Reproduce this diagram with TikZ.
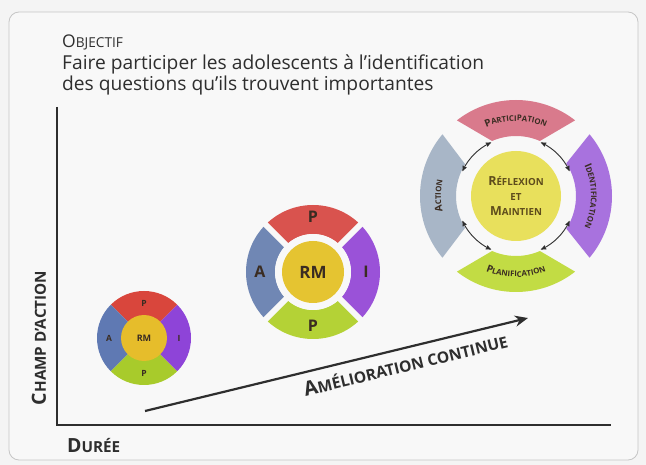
\documentclass[tikz,border=0pt]{standalone}
\usepackage{fontspec}
\setmainfont{Open Sans}
\usetikzlibrary{arrows, arrows.meta, decorations.text}

\definecolor{pagegray}{HTML}{F4F4F4}
\definecolor{framefill}{HTML}{F8F8F8}
\definecolor{inkdark}{HTML}{2E2E2E}
\definecolor{segtext}{HTML}{3A2C22}
\definecolor{coretext}{HTML}{5E4C1C}
% small circle
\definecolor{smallred}{HTML}{D9463C}
\definecolor{smallviolet}{HTML}{8E44D8}
\definecolor{smallgreen}{HTML}{A8CB2B}
\definecolor{smallblue}{HTML}{5F79B3}
\definecolor{smallyellow}{HTML}{E6BD2B}
% middle circle
\definecolor{midred}{HTML}{D9534E}
\definecolor{midviolet}{HTML}{9A52D8}
\definecolor{midgreen}{HTML}{B4D236}
\definecolor{midblue}{HTML}{7087B4}
\definecolor{midyellow}{HTML}{E5C431}
% big circle
\definecolor{bigpink}{HTML}{D97A8C}
\definecolor{bigviolet}{HTML}{A872DE}
\definecolor{biggreen}{HTML}{C2DC44}
\definecolor{bigblue}{HTML}{A8B6C7}
\definecolor{bigyellow}{HTML}{E8E05C}

% first letter large, the rest as small capitals
\newcommand\capsfirst[3]{{\fontsize{#1}{#1}\selectfont #2}{\fontsize{\fpeval{0.78*#1}}{#1}\selectfont #3}}
\newcommand\ringbig{\fontsize{10}{10}\selectfont\bfseries}
\newcommand\ringsmall{\fontsize{7.8}{7.8}\selectfont\bfseries}
% colour, inner r, outer r, outer start, outer end, inner start, inner end
\newcommand\ringseg[7]{\fill[#1] (#4:#3) arc[start angle=#4, end angle=#5, radius=#3] -- (#7:#2) arc[start angle=#7, end angle=#6, radius=#2] -- cycle;}

\tikzset{
	>=stealth', % arrow heads of the cycle arrows
	frame/.style={rounded corners=10pt, draw=gray!45, line width=0.8pt, fill=framefill}, % the card
	headtext/.style={text=inkdark, font=\fontsize{19.2}{21}\selectfont, inner sep=0pt}, % objective lines
	axis/.style={draw=inkdark, line width=1.8pt}, % the two axes
	axislabel/.style={text=inkdark, font=\bfseries, inner sep=0pt}, % names of the axes
	improve/.style={draw=inkdark, line width=2.2pt, -{Stealth[length=13pt, width=11pt]}}, % long arrow
	gapline/.style={draw=framefill}, % white cuts between the sectors
	core/.style={circle, inner sep=0pt, text=segtext, font=\bfseries}, % yellow centre
	seglabel/.style={text=segtext, font=\bfseries, inner sep=0pt}, % letters on the sectors
	cyclearrow/.style={<->, draw=inkdark, line width=0.9pt}, % arrows round the centre
}

\begin{document}
\begin{tikzpicture}[x=1pt, y=1pt]
\useasboundingbox[fill=pagegray] (0,0) rectangle (646,-465);
\draw[frame] (9,-12) rectangle (638,-460);

% objective
\node[headtext, anchor=base west] (objtitle) at (62,-48) {\capsfirst{17.5}{O}{BJECTIF}};
\node[headtext, anchor=base west] (objline1) at (62,-70) {Faire participer les adolescents à l’identification};
\node[headtext, anchor=base west] (objline2) at (62,-91) {des questions qu’ils trouvent importantes};

% axes
\coordinate (ytop) at (57,-107);
\coordinate (origin) at (57,-425);
\coordinate (xend) at (611,-425);
\draw[axis] (ytop) -- (origin) -- (xend);
\node[axislabel, anchor=base west] (duree) at (67,-452) {\capsfirst{19.5}{D}{URÉE}};
\node[axislabel, rotate=90] (champ) at (39,-338) {\capsfirst{19.5}{C}{HAMP D’ACTION}};

% improvement arrow
\coordinate (impstart) at (145,-411);
\coordinate (impend) at (528,-318);
\draw[improve] (impstart) -- (impend)
	node[axislabel, pos=0.67, sloped, below=8pt] (amelio) {\capsfirst{20}{A}{MÉLIORATION CONTINUE}};

% small circle
\begin{scope}[shift={(144,-338)}]
	\foreach \a/\col [evaluate=\a as \b using \a+90] in {45/smallred, 135/smallblue, 225/smallgreen, 315/smallviolet}
		\fill[\col] (\a:47) arc[start angle=\a, end angle=\b, radius=47] -- (0,0) -- cycle;
	\node[core, fill=smallyellow, minimum size=46pt, font=\fontsize{9}{9}\selectfont\bfseries] (smallcore) at (0,0) {RM};
	\node[seglabel, font=\fontsize{8.5}{8.5}\selectfont\bfseries] (smallp1) at (90:35) {P};
	\node[seglabel, font=\fontsize{8.5}{8.5}\selectfont\bfseries] (smalli) at (0:35) {I};
	\node[seglabel, font=\fontsize{8.5}{8.5}\selectfont\bfseries] (smallp2) at (270:35) {P};
	\node[seglabel, font=\fontsize{8.5}{8.5}\selectfont\bfseries] (smalla) at (180:35) {A};
\end{scope}

% middle circle
\begin{scope}[shift={(313,-272)}]
	\foreach \a/\col [evaluate=\a as \b using \a+90] in {45/midred, 135/midblue, 225/midgreen, 315/midviolet}
		\fill[\col] (\a:67) arc[start angle=\a, end angle=\b, radius=67] -- (\b:38) arc[start angle=\b, end angle=\a, radius=38] -- cycle;
	\foreach \a in {45, 135}
		\draw[gapline, line width=6pt] (\a:70) -- (\a+180:70);
	\fill[framefill] (0,0) circle[radius=38];
	\node[core, fill=midyellow, minimum size=62pt, font=\fontsize{17}{17}\selectfont\bfseries] (midcore) at (0,0) {RM};
	\node[seglabel, font=\fontsize{16}{16}\selectfont\bfseries] (midp1) at (90:55) {P};
	\node[seglabel, font=\fontsize{16}{16}\selectfont\bfseries] (midi) at (0:53) {I};
	\node[seglabel, font=\fontsize{16}{16}\selectfont\bfseries] (midp2) at (270:54) {P};
	\node[seglabel, font=\fontsize{16}{16}\selectfont\bfseries] (mida) at (180:53) {A};
\end{scope}

% big circle
\begin{scope}[shift={(516,-196)}]
	\ringseg{bigpink}{60}{96}{52}{128}{66.5}{113.5}
	\ringseg{bigblue}{60}{96}{140}{220}{148}{212}
	\ringseg{biggreen}{60}{96}{232}{308}{246.5}{293.5}
	\ringseg{bigviolet}{60}{96}{-40}{40}{-33}{33}
	\node[core, fill=bigyellow, minimum size=90pt, text=coretext, align=center, font=\bfseries] (bigcore) at (0,0)
		{\capsfirst{12.5}{R}{ÉFLEXION}\\[3pt]\capsfirst{12.5}{}{ET}\\[3pt]\capsfirst{12.5}{M}{AINTIEN}};
	% sector names
	\path[decorate, decoration={text along path, text color=segtext, text align=center,
		text={|\ringbig|P|\ringsmall|ARTICIPATION}}] (130:75) arc[start angle=130, end angle=50, radius=75];
	\path[decorate, decoration={text along path, text color=segtext, text align=center,
		text={|\ringbig|A|\ringsmall|CTION}}] (215:75) arc[start angle=215, end angle=145, radius=75];
	\path[decorate, decoration={text along path, text color=segtext, text align=center,
		text={|\ringbig|I|\ringsmall|DENTIFICATION}}] (42:75) arc[start angle=42, end angle=-42, radius=75];
	\path[decorate, decoration={text along path, text color=segtext, text align=center,
		text={|\ringbig|P|\ringsmall|LANIFICATION}}] (228:81) arc[start angle=228, end angle=312, radius=81];
	% cycle arrows
	\draw[cyclearrow] (115:59) arc[start angle=115, end angle=155, radius=59];
	\draw[cyclearrow] (65:59) arc[start angle=65, end angle=25, radius=59];
	\draw[cyclearrow] (-25:59) arc[start angle=-25, end angle=-65, radius=59];
	\draw[cyclearrow] (-115:59) arc[start angle=-115, end angle=-155, radius=59];
\end{scope}
\end{tikzpicture}
\end{document}
